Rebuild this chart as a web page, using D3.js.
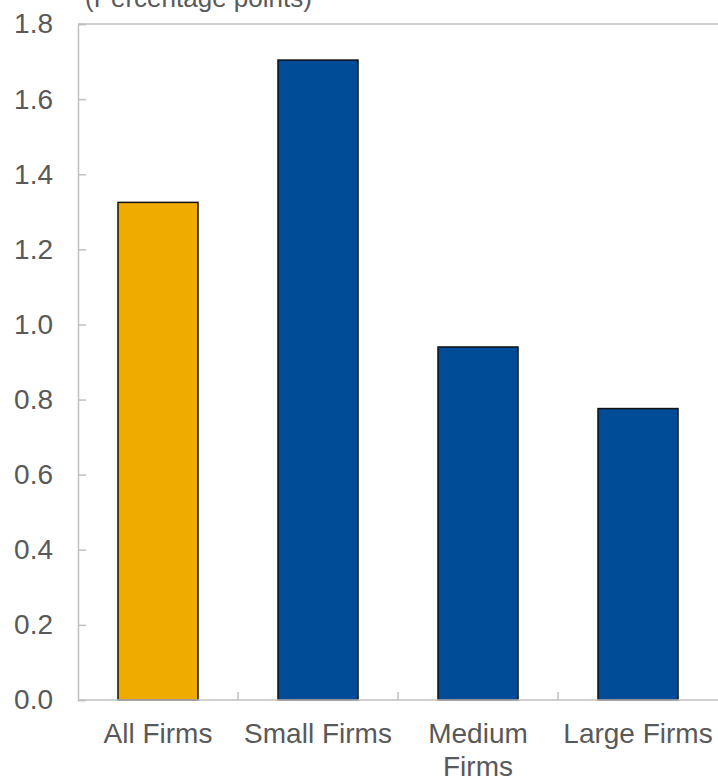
<!DOCTYPE html>
<html>
<head>
<meta charset="utf-8">
<script src="https://cdn.jsdelivr.net/npm/d3@7"></script>
<style>
  html, body { margin: 0; padding: 0; background: #ffffff; }
  svg { display: block; }
  text { font-family: "Liberation Sans", Arial, sans-serif; fill: #595959; }
</style>
</head>
<body>
<svg id="chart" width="718" height="777"></svg>
<script>
const categories = ["All Firms", "Small Firms", "Medium Firms", "Large Firms"];
const categoryLines = [["All Firms"], ["Small Firms"], ["Medium", "Firms"], ["Large Firms"]];
const values = [1.325, 1.704, 0.940, 0.776];
const barColors = ["#F0AB00", "#004C97", "#004C97", "#004C97"];
const yTicks = [0, 0.2, 0.4, 0.6, 0.8, 1.0, 1.2, 1.4, 1.6, 1.8];
const yTitle = "(Percentage points)";

const svg = d3.select("#chart");
const margin = { left: 78, right: 0, top: 24, bottom: 77 };
const W = 718, H = 777;

const x = d3.scaleBand()
  .domain(categories)
  .range([margin.left, W - margin.right])
  .paddingInner(0.5)
  .paddingOuter(0.25);

const y = d3.scaleLinear()
  .domain([0, 1.8])
  .range([H - margin.bottom, margin.top]);

const axisColor = "#c0c0c0";

// top frame line
svg.append("line")
  .attr("x1", margin.left).attr("x2", W - margin.right)
  .attr("y1", y(1.8)).attr("y2", y(1.8))
  .attr("stroke", axisColor).attr("stroke-width", 1.5);

// y axis
const yAxis = d3.axisRight(y)
  .tickValues(yTicks)
  .tickSize(8)
  .tickFormat(d3.format(".1f"));
const yg = svg.append("g").attr("transform", `translate(${margin.left},0)`).call(yAxis);
yg.select(".domain").attr("stroke", axisColor).attr("stroke-width", 1.5);
yg.selectAll(".tick line").attr("stroke", axisColor).attr("stroke-width", 1.5);
yg.selectAll(".tick text")
  .attr("x", -25)
  .attr("dy", "0.32em")
  .attr("text-anchor", "end")
  .style("font-size", "28px")
  .style("font-family", "'Liberation Sans', Arial, sans-serif")
  .attr("fill", "#595959");

// bars
svg.append("g").selectAll("rect")
  .data(categories)
  .join("rect")
  .attr("x", d => x(d))
  .attr("width", x.bandwidth())
  .attr("y", (d, i) => y(values[i]))
  .attr("height", (d, i) => y(0) - y(values[i]))
  .attr("fill", (d, i) => barColors[i])
  .attr("stroke", "#111111")
  .attr("stroke-width", 1.5);

// x axis line
svg.append("line")
  .attr("x1", margin.left).attr("x2", W - margin.right)
  .attr("y1", y(0)).attr("y2", y(0))
  .attr("stroke", axisColor).attr("stroke-width", 1.5);

// x ticks at band boundaries
const step = x.step();
const boundaries = categories.slice(1).map(c => x(c) - x.paddingInner() * step / 2);
svg.append("g").selectAll("line")
  .data(boundaries)
  .join("line")
  .attr("x1", d => d).attr("x2", d => d)
  .attr("y1", y(0)).attr("y2", y(0) - 8)
  .attr("stroke", axisColor).attr("stroke-width", 1.5);

// category labels
const labels = svg.append("g").selectAll("text")
  .data(categories)
  .join("text")
  .attr("x", d => x(d) + x.bandwidth() / 2)
  .attr("y", 743)
  .attr("text-anchor", "middle")
  .style("font-size", "28px");
labels.each(function(d, i) {
  const t = d3.select(this);
  categoryLines[i].forEach((line, j) => {
    t.append("tspan")
      .attr("x", x(d) + x.bandwidth() / 2)
      .attr("dy", j === 0 ? 0 : 33)
      .text(line);
  });
});

// title
svg.append("text")
  .attr("x", 85)
  .attr("y", 7)
  .style("font-size", "26px")
  .text(yTitle);
</script>
</body>
</html>
